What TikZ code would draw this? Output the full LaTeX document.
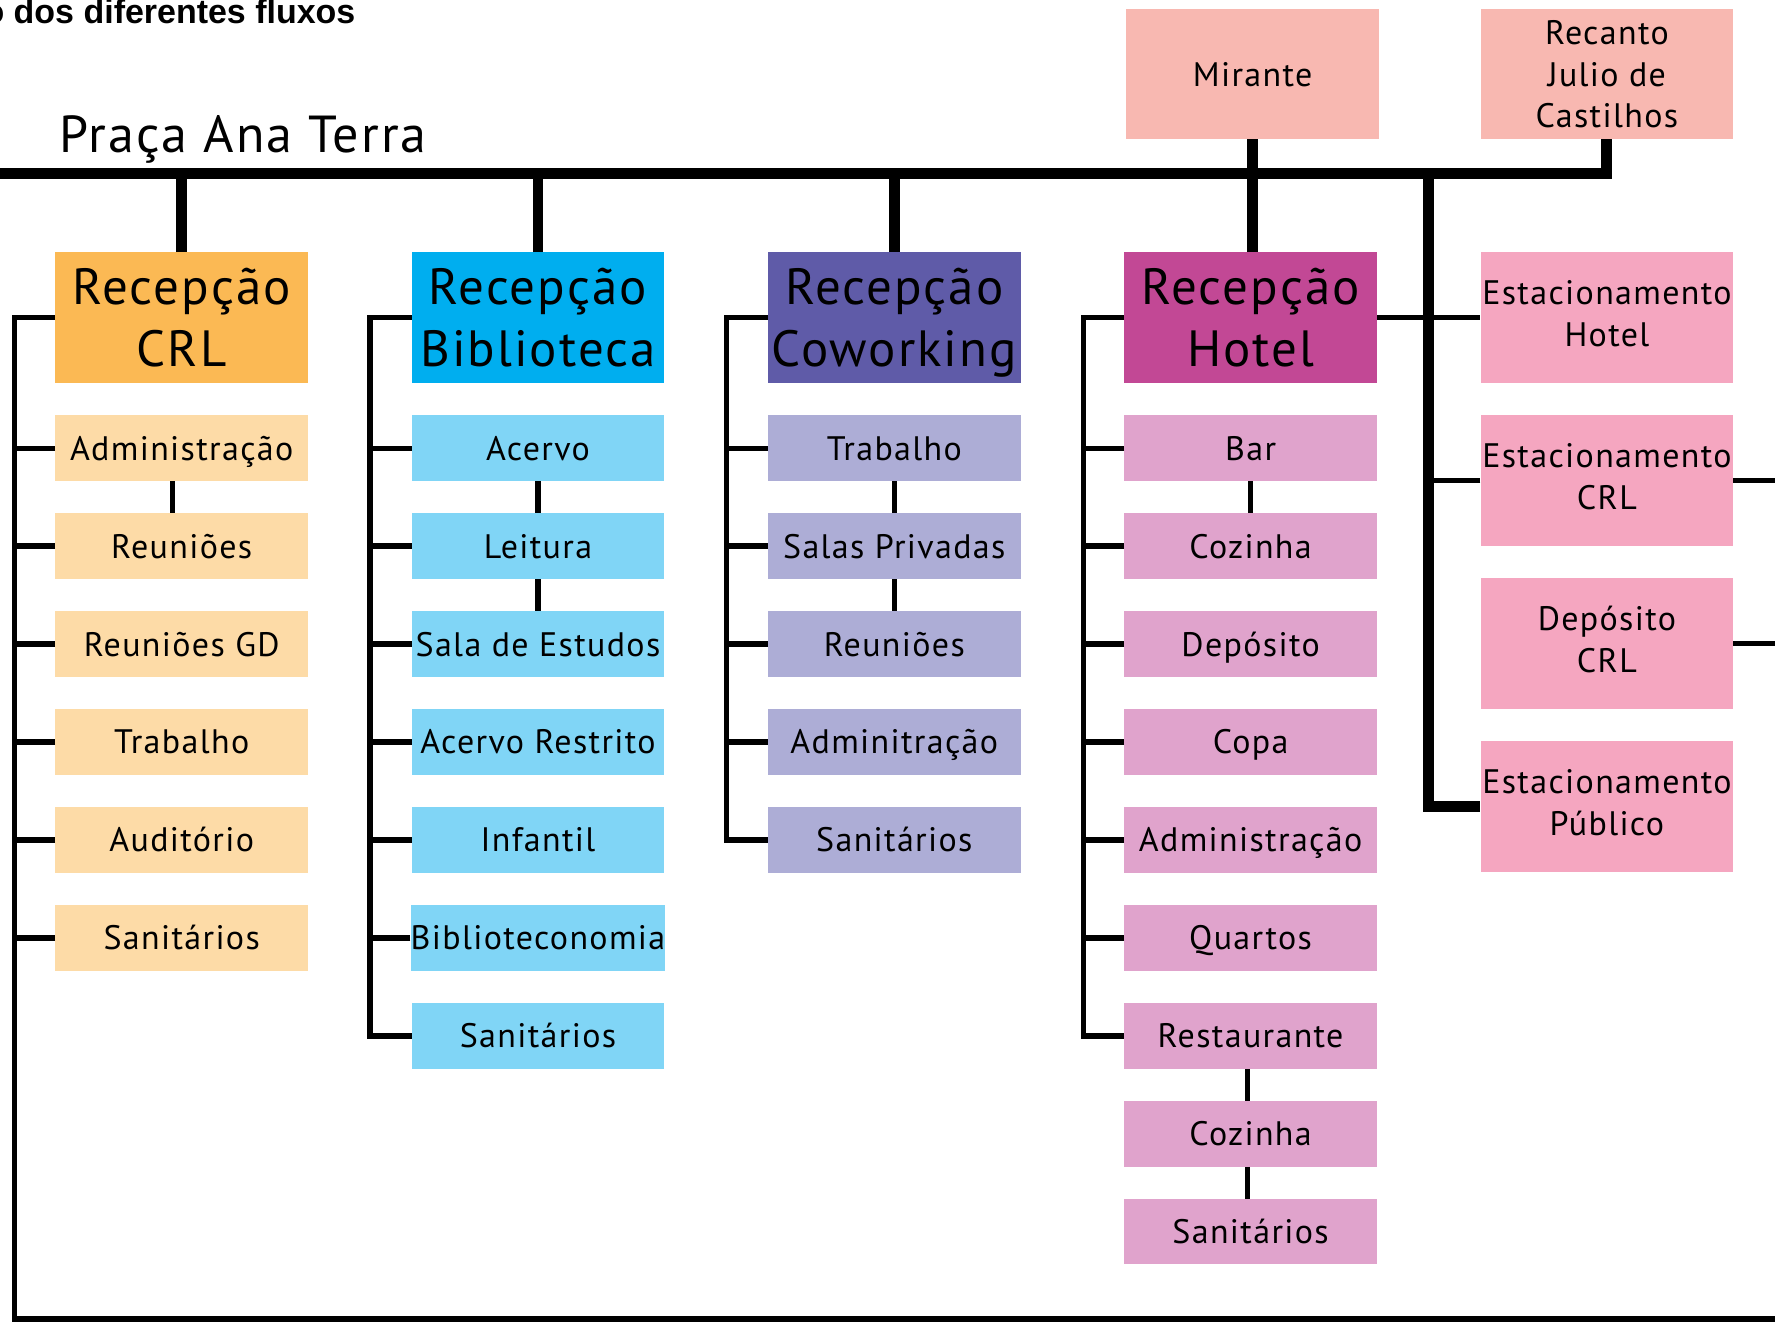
\documentclass[tikz,border=0pt]{standalone}
\usepackage{fontspec}
\newfontfamily\dinf[LetterSpace=4]{PT Sans}
\newfontfamily\titf{Liberation Sans}
\newcommand\myfsub{\dinf\fontsize{30}{37}\selectfont}
\newcommand\myfrec{\dinf\fontsize{45}{55}\selectfont}
\newcommand\myfpra{\dinf\fontsize{46}{50}\selectfont}
\newcommand\myftit{\titf\bfseries\fontsize{30}{34}\selectfont}
\newcommand\myTop{\rule{0pt}{0.95em}}
\newcommand\myBot{\rule[-0.25em]{0pt}{0.25em}}
\newcommand\myBotP{\rule[-0.48em]{0pt}{0.48em}}
\definecolor{crlC}{HTML}{FBB954}
\definecolor{crlS}{HTML}{FDDBA7}
\definecolor{bibC}{HTML}{00AEEF}
\definecolor{bibS}{HTML}{80D5F6}
\definecolor{cowC}{HTML}{5F5BA8}
\definecolor{cowS}{HTML}{ADADD6}
\definecolor{hotC}{HTML}{C24895}
\definecolor{hotS}{HTML}{E0A3CC}
\definecolor{parkC}{HTML}{F5A6C0}
\definecolor{topC}{HTML}{F8B8B1}
\tikzset{
  basebox/.style={rectangle, inner sep=0pt, minimum width=223pt, minimum height=58pt, align=center, font=\myfsub},
  box/.style={basebox, execute at begin node={\myTop}, execute at end node={\myBot}},
  recbox/.style={basebox, minimum height=115pt, font=\myfrec},
  bigbox/.style={basebox, minimum height=115pt},
  thinln/.style={line width=4.8pt, line cap=butt},
  thickln/.style={line width=9.7pt, line cap=butt}
}
\begin{document}
\begin{tikzpicture}[x=1pt,y=-1pt,line join=miter]
\useasboundingbox (0,0) rectangle (1568,1168);
\fill[white] (0,0) rectangle (1568,1168);
% titles
\node[anchor=base west, inner sep=0pt, font=\myftit] (tit) at (-14.7,21) {o dos diferentes fluxos};
\node[anchor=base west, inner sep=0pt, font=\myfpra] (praca) at (52,135) {Praça Ana Terra};
% coordinates
\coordinate (barL) at (0,153);
\coordinate (pbus) at (1262,153);
\coordinate (crlbus) at (13,1165);
\coordinate (bibbus) at (327,0);
\coordinate (cowbus) at (642,0);
\coordinate (hotbus) at (957,0);
\coordinate (redge) at (1568,0);
% top boxes
\node[box, minimum height=115pt, fill=topC] (mir) at (1106.5,65.5) {Mirante};
\node[bigbox, fill=topC] (rec) at (1419.5,65.5) {\myTop Recanto\\Julio de\\Castilhos\myBot};
% reception boxes
\node[recbox, fill=crlC] (crl) at (160.5,280.5) {\myTop Recepção\\CRL\myBot};
\node[recbox, fill=bibC] (bib) at (475.25,280.5) {\myTop Recepção\\Biblioteca\myBot};
\node[recbox, fill=cowC] (cow) at (790,280.5) {\myTop Recepção\\Coworking\myBot};
\node[recbox, fill=hotC] (hot) at (1104.75,280.5) {\myTop Recepção\\Hotel\myBot};
% CRL sub
\foreach \t [count=\k] in {Administração,Reuniões,Reuniões GD,Trabalho,Auditório,Sanitários}
  \node[box, fill=crlS] (c\k) at (160.5,{396+86.5*(\k-1)}) {\t};
% Biblioteca sub
\foreach \t [count=\k] in {Acervo,Leitura,Sala de Estudos,Acervo Restrito,Infantil,Biblioteconomia,Sanitários}
  \node[box, fill=bibS] (b\k) at (475.25,{396+86.5*(\k-1)}) {\t};
% Coworking sub
\foreach \t [count=\k] in {Trabalho,Salas Privadas,Reuniões,Adminitração,Sanitários}
  \node[box, fill=cowS] (w\k) at (790,{396+86.5*(\k-1)}) {\t};
% Hotel sub
\foreach \t [count=\k] in {Bar,Cozinha,Depósito,Copa,Administração,Quartos,Restaurante,Cozinha,Sanitários}
  \node[box, fill=hotS] (h\k) at (1104.75,{396+86.5*(\k-1)}) {\t};
% parking
\node[bigbox, fill=parkC] (p1) at (1419.5,280.5) {\myTop Estacionamento\\Hotel\myBotP};
\node[bigbox, fill=parkC] (p2) at (1419.5,424.5) {\myTop Estacionamento\\CRL\myBotP};
\node[bigbox, fill=parkC] (p3) at (1419.5,568.5) {\myTop Depósito\\CRL\myBotP};
\node[bigbox, fill=parkC] (p4) at (1419.5,712.5) {\myTop Estacionamento\\Público\myBotP};
% thick main bar
\draw[thickln] (barL) -- (barL -| rec.south) -- (rec.south);
\foreach \n in {crl,bib,cow}
  \draw[thickln] (\n.north) -- (\n.north |- barL);
\draw[thickln] (mir.south) -- (mir.south |- hot.north);
\draw[thickln] (pbus) |- (p4.west);
% thin lines: CRL
\draw[thinln] (crl.west) -| (crlbus) -- (crlbus -| redge);
\foreach \k in {1,...,6}
  \draw[thinln] (c\k.west) -- (c\k.west -| crlbus);
\draw[thinln] ([xshift=-8pt]c1.south) -- ([xshift=-8pt]c2.north);
% Biblioteca
\draw[thinln] (bib.west) -| (b7.west -| bibbus) -- (b7.west);
\foreach \k in {1,...,6}
  \draw[thinln] (b\k.west) -- (b\k.west -| bibbus);
\draw[thinln] (b1.south) -- (b2.north);
\draw[thinln] (b2.south) -- (b3.north);
% Coworking
\draw[thinln] (cow.west) -| (w5.west -| cowbus) -- (w5.west);
\foreach \k in {1,...,4}
  \draw[thinln] (w\k.west) -- (w\k.west -| cowbus);
\draw[thinln] (w1.south) -- (w2.north);
\draw[thinln] (w2.south) -- (w3.north);
% Hotel
\draw[thinln] (hot.west) -| (h7.west -| hotbus) -- (h7.west);
\foreach \k in {1,...,6}
  \draw[thinln] (h\k.west) -- (h\k.west -| hotbus);
\draw[thinln] (h1.south) -- (h2.north);
\draw[thinln] ([xshift=-2.5pt]h7.south) -- ([xshift=-2.5pt]h8.north);
\draw[thinln] ([xshift=-2.5pt]h8.south) -- ([xshift=-2.5pt]h9.north);
\draw[thinln] (hot.east) -- (p1.west);
% parking
\draw[thinln] (p2.west) -- (p2.west -| pbus);
\draw[thinln] (p2.east) -- (p2.east -| redge);
\draw[thinln] (p3.east) -- (p3.east -| redge);
\end{tikzpicture}
\end{document}
